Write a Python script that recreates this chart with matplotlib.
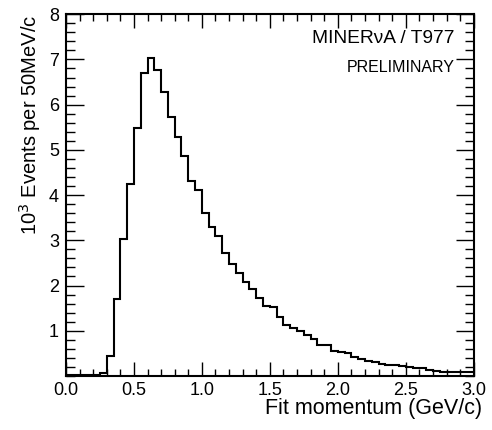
import numpy as np
import matplotlib.pyplot as plt
from matplotlib.ticker import MultipleLocator, FixedLocator

plt.rcParams['font.family'] = ['Liberation Sans', 'DejaVu Sans']

# 50 MeV/c bins from 0 to 3 GeV/c
bin_edges = np.round(np.arange(0, 3.0001, 0.05), 2)
# events per bin, in units of 10^3
counts = [0.02, 0.02, 0.02, 0.02, 0.02, 0.07, 0.44, 1.70, 3.03, 4.24,
          5.49, 6.71, 7.03, 6.76, 6.27, 5.73, 5.29, 4.86, 4.31, 4.12,
          3.61, 3.29, 3.09, 2.73, 2.48, 2.27, 2.08, 1.92, 1.72, 1.55,
          1.52, 1.31, 1.13, 1.07, 0.99, 0.91, 0.81, 0.69, 0.68, 0.56,
          0.54, 0.51, 0.43, 0.38, 0.34, 0.31, 0.27, 0.25, 0.24, 0.23,
          0.19, 0.18, 0.17, 0.13, 0.10, 0.09, 0.09, 0.08, 0.08, 0.09]

x_ticks = [0.0, 0.5, 1.0, 1.5, 2.0, 2.5, 3.0]
x_tick_labels = ['0.0', '0.5', '1.0', '1.5', '2.0', '2.5', '3.0']
y_ticks = [1, 2, 3, 4, 5, 6, 7, 8]

fig = plt.figure(figsize=(4.92, 4.30), dpi=100)
ax = fig.add_axes([0.134, 0.1256, 0.829, 0.8414])

ax.stairs(counts, bin_edges, color='black', linewidth=1.5, baseline=None)

ax.set_xlim(0, 3.0)
ax.set_ylim(0, 8)
ax.xaxis.set_major_locator(FixedLocator(x_ticks))
ax.set_xticklabels(x_tick_labels)
ax.xaxis.set_minor_locator(MultipleLocator(0.1))
ax.yaxis.set_major_locator(FixedLocator(y_ticks))
ax.yaxis.set_minor_locator(MultipleLocator(0.2))

ax.tick_params(which='both', direction='in', top=True, right=True,
               labelsize=13, width=1.0, pad=5)
ax.tick_params(axis='x', which='both', pad=4)
ax.tick_params(axis='x', which='major', length=10)
ax.tick_params(axis='x', which='minor', length=5)
ax.tick_params(axis='y', which='major', length=13)
ax.tick_params(axis='y', which='minor', length=6.5)
for sp in ax.spines.values():
    sp.set_linewidth(1.5)

ax.set_xlabel('Fit momentum (GeV/c)', fontsize=15.5, loc='right')
ax.xaxis.set_label_coords(1.02, -0.061)
ax.set_ylabel('10$^{3}$ Events per 50MeV/c', fontsize=14.5, loc='top')
ax.yaxis.set_label_coords(-0.056, 1.0)

ax.text(0.953, 0.955, 'MINER\u03bdA / T977', transform=ax.transAxes,
        ha='right', va='top', fontsize=13.8)
ax.text(0.953, 0.874, 'PRELIMINARY', transform=ax.transAxes,
        ha='right', va='top', fontsize=11.5)

fig.savefig('out.png', dpi=100)
